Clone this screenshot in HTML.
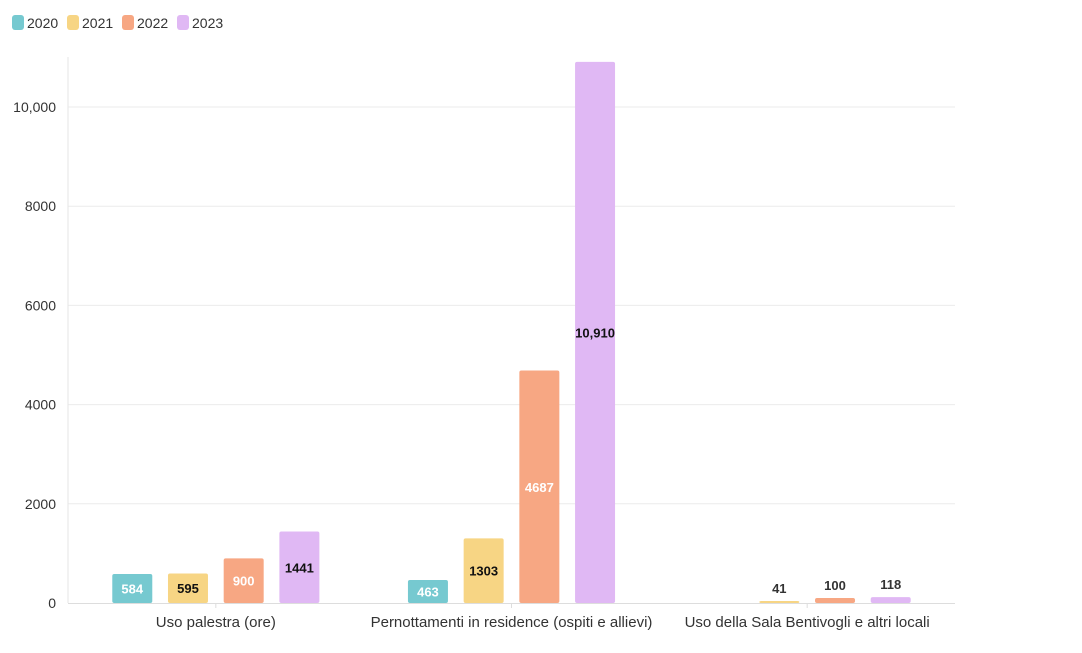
<!DOCTYPE html>
<html><head><meta charset="utf-8"><style>
body{margin:0;background:#fff;font-family:"Liberation Sans",sans-serif}
svg text{font-family:"Liberation Sans",sans-serif}
</style></head><body>
<svg id="chart" width="1082" height="648">
<g id="legend"></g>
<g id="grid"></g>
<g id="bars"></g>
<g id="xaxis"></g>
</svg>
<script>
const categories=["Uso palestra (ore)","Pernottamenti in residence (ospiti e allievi)","Uso della Sala Bentivogli e altri locali"];
const seriesNames=["2020","2021","2022","2023"];
const s2020=[584,463,null];
const s2021=[595,1303,41];
const s2022=[900,4687,100];
const s2023=[1441,10910,118];
const yTicks=[0,2000,4000,6000,8000,10000];
const yTickLabels=["0","2000","4000","6000","8000","10,000"];
const colors=["#76c9d0","#f7d584","#f7a783","#e0b8f4"];
const labelColors=["#fff","#111","#fff","#111"];
const NS="http://www.w3.org/2000/svg";
const L=68,R=955,Y0=603,Y10=107;
const y=v=>Y0-(v/10000)*(Y0-Y10);
const gw=(R-L)/categories.length;
const cx=i=>L+gw*(i+0.5);
function mk(t,a,p){const e=document.createElementNS(NS,t);for(const k in a)e.setAttribute(k,a[k]);p.appendChild(e);return e;}
const grid=document.getElementById('grid');
yTicks.forEach((t,i)=>{
  if(t>0){const l=mk('line',{x1:L,x2:R,y1:y(t),y2:y(t),stroke:'#ebebeb','stroke-width':1},grid);
  
  }
  const tx=mk('text',{x:56,y:y(t)+5,'text-anchor':'end','font-size':14,fill:'#333'},grid);
  tx.textContent=yTickLabels[i];
  
  
});
const ax=mk('line',{x1:L,x2:L,y1:57,y2:Y0,stroke:'#e6e6e6'},grid);


const xa=document.getElementById('xaxis');
const bl=mk('line',{x1:L,x2:R,y1:Y0+0.5,y2:Y0+0.5,stroke:'#dddddd'},xa);


categories.forEach((c,i)=>{
  const tk=mk('line',{x1:cx(i),x2:cx(i),y1:Y0,y2:Y0+5,stroke:'#ddd'},xa);
  
  
  const t=mk('text',{x:cx(i),y:627,'text-anchor':'middle','font-size':15,fill:'#333'},xa);
  t.textContent=c;
  
  
});
const series=[s2020,s2021,s2022,s2023];
const bars=document.getElementById('bars');
const bw=40,step=55.7;
series.forEach((s,si)=>{
  s.forEach((v,ci)=>{
    if(v==null)return;
    const x=cx(ci)+(si-1.5)*step-bw/2;
    const top=y(v),h=Y0-top;
    const r=mk('rect',{x:x,y:top,width:bw,height:h,fill:colors[si],rx:2},bars);
    
    
    const inside=h>=20;
    const t=mk('text',{x:x+bw/2,y:inside?top+h/2+5:top-8,'text-anchor':'middle','font-size':13,'font-weight':'bold',fill:inside?labelColors[si]:'#333'},bars);
    t.textContent=v.toLocaleString('en-US').replace(/^(\d),(\d{3})$/,'$1$2');
    
    
  });
});
const lg=document.getElementById('legend');
let lx=12;
const lw=[54,54,54,54];
seriesNames.forEach((n,i)=>{
  const g=mk('g',{},lg);
  
  
  mk('rect',{x:lx,y:15,width:12,height:15,rx:3,fill:colors[i]},g);
  const t=mk('text',{x:lx+15,y:28,'font-size':14,fill:'#333'},g);
  t.textContent=n;
  lx+=lw[i]+1;
});
</script>
</body></html>
